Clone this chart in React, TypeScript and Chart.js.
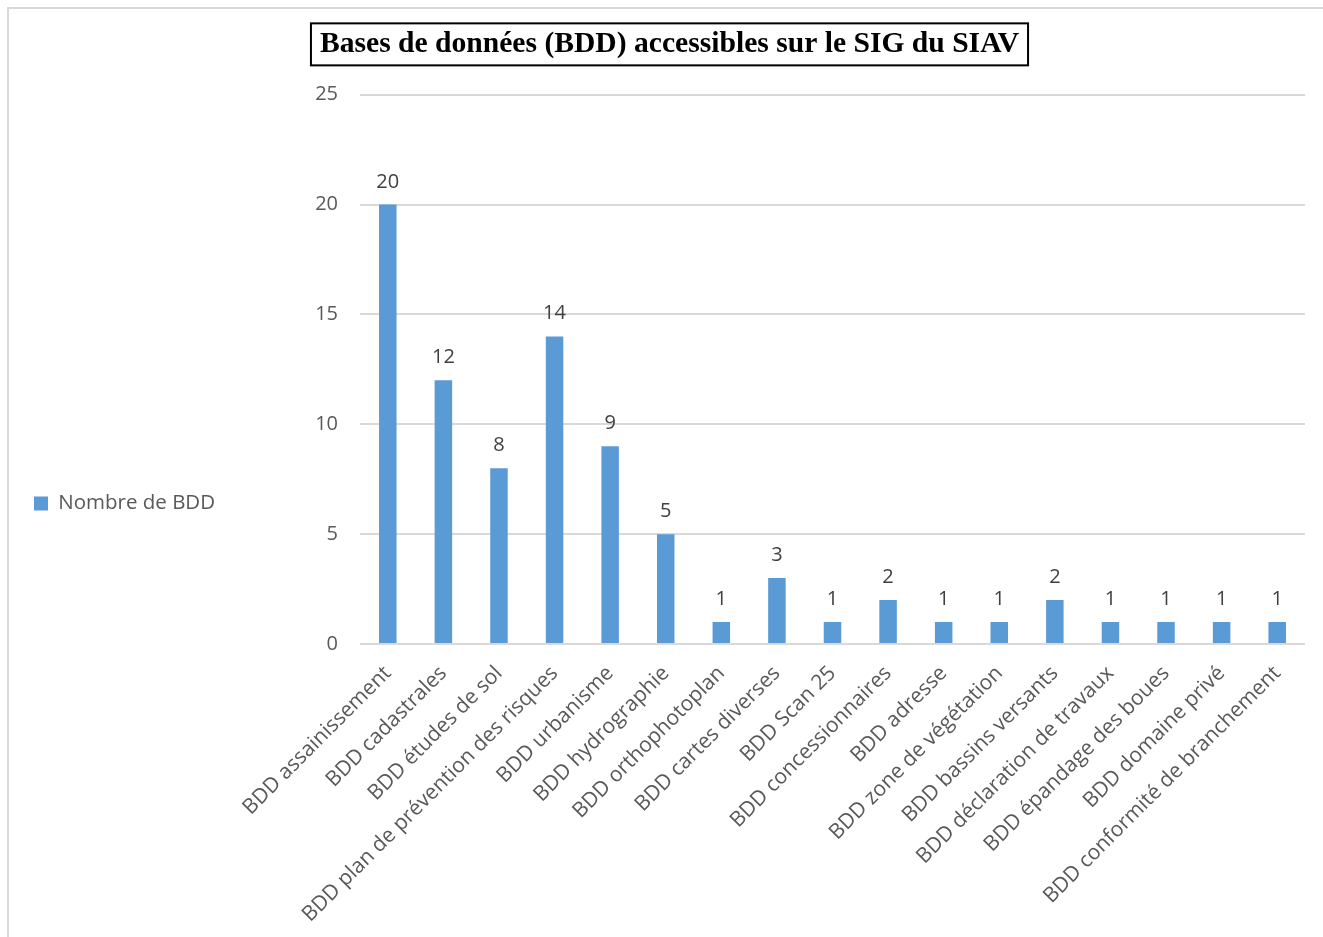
import React, { useEffect, useRef } from 'react';
import { Chart, registerables } from 'chart.js';

Chart.register(...registerables);

const chartTitle = 'Bases de données (BDD) accessibles sur le SIG du SIAV';
const seriesName = 'Nombre de BDD';
const categories = [
  'BDD assainissement',
  'BDD cadastrales',
  'BDD études de sol',
  'BDD plan de prévention des risques',
  'BDD urbanisme',
  'BDD hydrographie',
  'BDD orthophotoplan',
  'BDD cartes diverses',
  'BDD Scan 25',
  'BDD concessionnaires',
  'BDD adresse',
  'BDD zone de végétation',
  'BDD bassins versants',
  'BDD déclaration de travaux',
  'BDD épandage des boues',
  'BDD domaine privé',
  'BDD conformité de branchement',
];
const values = [20, 12, 8, 14, 9, 5, 1, 3, 1, 2, 1, 1, 2, 1, 1, 1, 1];
const yMin = 0;
const yMax = 25;
const yStep = 5;

const W = 1330;
const H = 1007;
const PAD_LEFT = 34;
const PLOT_LEFT = 360;
const PLOT_RIGHT = 1305;
const PLOT_BOTTOM = 644;
const TITLE_FONT = 29.6;
const TITLE_PAD_TOP = 26.6;
const TITLE_PAD_BOTTOM = 32.6;

const frame = {
  id: 'frame',
  beforeDraw(chart: any) {
    const ctx = chart.ctx;
    ctx.save();
    ctx.fillStyle = '#ffffff';
    ctx.fillRect(0, 0, chart.width, chart.height);
    ctx.strokeStyle = '#d9d9d9';
    ctx.lineWidth = 2;
    ctx.beginPath();
    ctx.moveTo(8, chart.height + 10);
    ctx.lineTo(8, 8);
    ctx.lineTo(chart.width + 10, 8);
    ctx.stroke();
    ctx.restore();
  },
  afterDraw(chart: any) {
    const tb = chart.titleBlock;
    if (!tb) return;
    const ctx = chart.ctx;
    ctx.save();
    ctx.font = `bold ${TITLE_FONT}px "Liberation Serif", "Times New Roman", serif`;
    const w = ctx.measureText(chartTitle).width;
    const cx = (tb.left + tb.right) / 2;
    const cy = tb.top + TITLE_PAD_TOP + (TITLE_FONT * 1.2) / 2;
    ctx.strokeStyle = '#000000';
    ctx.lineWidth = 2;
    ctx.strokeRect(cx - w / 2 - 9, cy - 21, w + 18, 42);
    ctx.restore();
  },
};

const dataLabels = {
  id: 'dataLabels',
  afterDatasetsDraw(chart: any) {
    const ctx = chart.ctx;
    const meta = chart.getDatasetMeta(0);
    ctx.save();
    ctx.font = '20px "Open Sans", sans-serif';
    ctx.fillStyle = '#404040';
    ctx.textAlign = 'center';
    ctx.textBaseline = 'alphabetic';
    meta.data.forEach((bar: any, i: number) => {
      ctx.fillText(String(values[i]), bar.x, bar.y - 17);
    });
    ctx.restore();
  },
};

export default function App() {
  const ref = useRef<HTMLCanvasElement>(null);

  useEffect(() => {
    const canvas = ref.current;
    if (!canvas) return;
    const chart = new Chart(canvas, {
      type: 'bar',
      data: {
        labels: categories,
        datasets: [
          {
            label: seriesName,
            data: values,
            backgroundColor: '#5b9bd5',
            borderWidth: 0,
            barPercentage: 0.315,
            categoryPercentage: 1,
          },
        ],
      },
      options: {
        animation: false,
        responsive: false,
        devicePixelRatio: 1,
        layout: { padding: { left: PAD_LEFT, right: W - PLOT_RIGHT, top: 0, bottom: 0 } },
        plugins: {
          title: {
            display: true,
            text: chartTitle,
            color: '#000000',
            font: { family: '"Liberation Serif", "Times New Roman", serif', size: TITLE_FONT, weight: 'bold', lineHeight: 1.2 },
            padding: { top: TITLE_PAD_TOP, bottom: TITLE_PAD_BOTTOM },
          },
          legend: {
            display: true,
            position: 'left',
            labels: {
              boxWidth: 14,
              boxHeight: 14,
              padding: 0,
              color: '#595959',
              font: { family: '"Open Sans", sans-serif', size: 20.5 },
            },
          },
          tooltip: { enabled: false },
        },
        scales: {
          x: {
            grid: { display: false, drawTicks: false },
            border: { display: false },
            ticks: {
              autoSkip: false,
              maxRotation: 45,
              minRotation: 45,
              padding: 17,
              color: '#595959',
              font: { family: '"Open Sans", sans-serif', size: 21 },
            },
            afterFit: (scale: any) => {
              scale.height = H - PLOT_BOTTOM;
            },
          },
          y: {
            min: yMin,
            max: yMax,
            ticks: {
              stepSize: yStep,
              padding: 22,
              color: '#595959',
              font: { family: '"Open Sans", sans-serif', size: 20 },
            },
            grid: { color: '#d9d9d9', lineWidth: 2, drawTicks: false },
            border: { display: false },
            afterFit: (scale: any) => {
              const lw = scale.chart.legend ? scale.chart.legend.width : 0;
              scale.width = PLOT_LEFT - PAD_LEFT - lw;
            },
          },
        },
      },
      plugins: [frame, dataLabels],
    });
    return () => chart.destroy();
  }, []);

  return (
    <div style={{ position: 'absolute', left: 0, top: 0, width: 1323, height: 937, overflow: 'hidden' }}>
      <canvas ref={ref} width={W} height={H} style={{ display: 'block' }} />
    </div>
  );
}
